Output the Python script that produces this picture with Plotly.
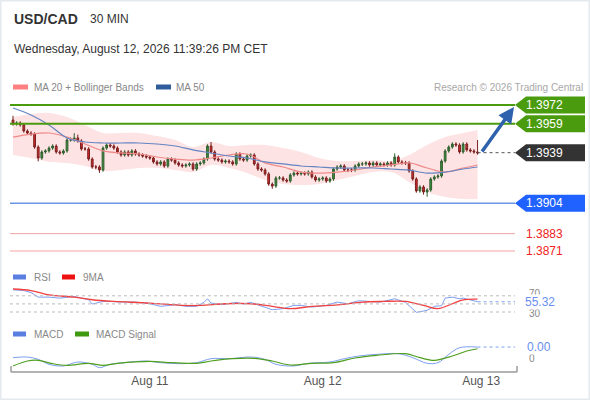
import pandas as pd
import plotly.graph_objects as go

# ---------------- data ----------------
symbol = "USD/CAD"
timeframe = "30 MIN"
timestamp_text = "Wednesday, August 12, 2026 11:39:26 PM CET"
credit = "Research \u00a9 2026 Trading Central"

bar_start = "2026-08-10 05:00"
n_bars = 130

opens = [1.39616,1.39589,1.39595,1.39582,1.39540,1.39526,1.39519,1.39429,1.39353,1.39395,
         1.39402,1.39422,1.39436,1.39395,1.39388,1.39402,1.39478,1.39478,1.39492,1.39471,
         1.39416,1.39416,1.39346,1.39291,1.39291,1.39270,1.39422,1.39443,1.39436,1.39422,
         1.39395,1.39374,1.39395,1.39374,1.39402,1.39381,1.39374,1.39367,1.39360,1.39353,
         1.39326,1.39312,1.39326,1.39298,1.39346,1.39339,1.39319,1.39305,1.39298,1.39305,
         1.39312,1.39277,1.39312,1.39319,1.39346,1.39436,1.39395,1.39346,1.39339,1.39326,
         1.39332,1.39326,1.39312,1.39381,1.39346,1.39339,1.39367,1.39374,1.39312,1.39277,
         1.39270,1.39243,1.39173,1.39159,1.39215,1.39215,1.39201,1.39194,1.39236,1.39249,
         1.39243,1.39249,1.39243,1.39256,1.39222,1.39201,1.39208,1.39215,1.39194,1.39208,
         1.39277,1.39291,1.39298,1.39270,1.39270,1.39270,1.39298,1.39312,1.39312,1.39319,
         1.39305,1.39319,1.39305,1.39312,1.39305,1.39319,1.39305,1.39360,1.39326,1.39319,
         1.39319,1.39263,1.39208,1.39125,1.39153,1.39118,1.39132,1.39208,1.39222,1.39229,
         1.39332,1.39402,1.39429,1.39450,1.39443,1.39395,1.39450,1.39409,1.39402,1.39395]
highs = [1.39645,1.39607,1.39607,1.39594,1.39552,1.39538,1.39531,1.39441,1.39407,1.39414,
         1.39434,1.39448,1.39448,1.39407,1.39414,1.39490,1.39495,1.39525,1.39515,1.39483,
         1.39430,1.39428,1.39358,1.39305,1.39303,1.39434,1.39455,1.39455,1.39448,1.39434,
         1.39407,1.39407,1.39407,1.39414,1.39414,1.39393,1.39386,1.39379,1.39372,1.39365,
         1.39338,1.39338,1.39338,1.39358,1.39358,1.39351,1.39331,1.39317,1.39317,1.39324,
         1.39324,1.39324,1.39331,1.39358,1.39448,1.39464,1.39407,1.39358,1.39351,1.39344,
         1.39344,1.39338,1.39393,1.39393,1.39358,1.39379,1.39386,1.39386,1.39324,1.39289,
         1.39282,1.39255,1.39185,1.39227,1.39229,1.39227,1.39213,1.39248,1.39261,1.39261,
         1.39261,1.39261,1.39268,1.39268,1.39234,1.39220,1.39227,1.39227,1.39220,1.39289,
         1.39303,1.39310,1.39310,1.39284,1.39284,1.39310,1.39324,1.39326,1.39331,1.39331,
         1.39331,1.39331,1.39324,1.39324,1.39331,1.39331,1.39385,1.39372,1.39338,1.39333,
         1.39331,1.39275,1.39220,1.39165,1.39165,1.39144,1.39220,1.39234,1.39241,1.39344,
         1.39414,1.39441,1.39462,1.39462,1.39455,1.39462,1.39462,1.39421,1.39414,1.39478]
lows = [1.39577,1.39577,1.39570,1.39528,1.39514,1.39507,1.39417,1.39330,1.39341,1.39383,
        1.39390,1.39410,1.39383,1.39376,1.39376,1.39390,1.39466,1.39466,1.39459,1.39404,
        1.39404,1.39334,1.39279,1.39275,1.39250,1.39258,1.39410,1.39424,1.39410,1.39383,
        1.39362,1.39362,1.39362,1.39362,1.39369,1.39362,1.39355,1.39348,1.39341,1.39314,
        1.39300,1.39300,1.39286,1.39286,1.39327,1.39307,1.39293,1.39286,1.39286,1.39293,
        1.39265,1.39265,1.39300,1.39307,1.39334,1.39383,1.39334,1.39327,1.39314,1.39314,
        1.39314,1.39300,1.39300,1.39334,1.39327,1.39327,1.39355,1.39300,1.39265,1.39258,
        1.39231,1.39161,1.39140,1.39147,1.39203,1.39189,1.39182,1.39182,1.39224,1.39231,
        1.39231,1.39231,1.39231,1.39210,1.39189,1.39189,1.39196,1.39182,1.39182,1.39196,
        1.39265,1.39279,1.39258,1.39256,1.39256,1.39258,1.39286,1.39298,1.39300,1.39293,
        1.39293,1.39293,1.39293,1.39293,1.39293,1.39293,1.39293,1.39314,1.39307,1.39305,
        1.39251,1.39196,1.39113,1.39113,1.39100,1.39085,1.39120,1.39196,1.39210,1.39217,
        1.39320,1.39390,1.39417,1.39431,1.39383,1.39383,1.39397,1.39390,1.39383,1.39376]
closes = [1.39589,1.39595,1.39582,1.39540,1.39526,1.39519,1.39429,1.39353,1.39395,1.39402,
          1.39422,1.39436,1.39395,1.39388,1.39402,1.39478,1.39478,1.39492,1.39471,1.39416,
          1.39416,1.39346,1.39291,1.39291,1.39270,1.39422,1.39443,1.39436,1.39422,1.39395,
          1.39374,1.39395,1.39374,1.39402,1.39381,1.39374,1.39367,1.39360,1.39353,1.39326,
          1.39312,1.39326,1.39298,1.39346,1.39339,1.39319,1.39305,1.39298,1.39305,1.39312,
          1.39277,1.39312,1.39319,1.39346,1.39436,1.39395,1.39346,1.39339,1.39326,1.39332,
          1.39326,1.39312,1.39381,1.39346,1.39339,1.39367,1.39374,1.39312,1.39277,1.39270,
          1.39243,1.39173,1.39159,1.39215,1.39215,1.39201,1.39194,1.39236,1.39249,1.39243,
          1.39249,1.39243,1.39256,1.39222,1.39201,1.39208,1.39215,1.39194,1.39208,1.39277,
          1.39291,1.39298,1.39270,1.39270,1.39270,1.39298,1.39312,1.39312,1.39319,1.39305,
          1.39319,1.39305,1.39312,1.39305,1.39319,1.39305,1.39360,1.39326,1.39319,1.39319,
          1.39263,1.39208,1.39125,1.39153,1.39118,1.39132,1.39208,1.39222,1.39229,1.39332,
          1.39402,1.39429,1.39450,1.39443,1.39395,1.39450,1.39409,1.39402,1.39395,1.39388]

# moving averages / Bollinger bands, read at every 5th bar
ind_idx = [0,5,10,15,20,25,30,35,40,45,50,55,60,65,70,75,80,85,90,95,100,105,110,115,120,125,129]
ma20 = [1.39498,1.39519,1.39526,1.39498,1.39450,1.39402,1.39388,1.39381,1.39360,1.39346,1.39339,1.39353,1.39374,
        1.39381,1.39319,1.39291,1.39256,1.39249,1.39256,1.39270,1.39291,1.39305,1.39319,1.39284,1.39256,1.39284,1.39305]
bb_upper = [1.39637,1.39658,1.39665,1.39637,1.39582,1.39526,1.39526,1.39526,1.39505,1.39478,1.39429,1.39464,1.39436,
            1.39443,1.39443,1.39422,1.39395,1.39353,1.39332,1.39332,1.39339,1.39332,1.39374,1.39443,1.39498,1.39526,1.39547]
bb_lower = [1.39374,1.39353,1.39326,1.39319,1.39298,1.39263,1.39270,1.39284,1.39284,1.39270,1.39256,1.39305,1.39284,
            1.39249,1.39201,1.39173,1.39166,1.39173,1.39201,1.39229,1.39256,1.39256,1.39187,1.39118,1.39083,1.39069,1.39069]
ma50 = [1.39699,1.39651,1.39582,1.39492,1.39464,1.39457,1.39457,1.39457,1.39450,1.39436,1.39409,1.39388,1.39367,
        1.39353,1.39326,1.39312,1.39298,1.39291,1.39284,1.39284,1.39284,1.39277,1.39270,1.39249,1.39256,1.39277,1.39291]

rsi_idx = [0,3,5,7,10,13,17,21,22,25,27,30,34,38,41,45,48,51,53,54,55,58,62,64,66,69,72,75,78,80,
           83,87,90,93,96,99,102,106,109,111,112,115,117,119,120,122,124,125,128,129]
rsi_vals = [84.7,83.0,78.0,66.7,66.7,64.3,68.4,60.2,49.6,56.1,56.1,54.5,54.5,50.4,43.9,48.0,43.9,43.9,53.7,62.6,
            52.0,48.0,53.7,49.6,53.7,43.9,35.7,38.2,46.3,46.3,42.2,46.3,54.5,50.4,57.8,56.1,54.5,62.6,53.7,37.4,
            29.2,34.1,43.9,45.5,64.3,66.7,62.6,64.3,58.6,55.32]
rsi_ma_idx = [0,5,10,17,22,28,38,47,52,59,66,72,77,83,91,97,103,109,114,118,122,125,129]
rsi_ma_vals = [86.8,83.0,72.4,66.7,60.2,56.1,52.0,46.3,46.3,50.4,50.4,43.9,38.2,43.9,48.0,54.5,56.1,56.1,
               46.3,38.2,50.4,60.2,61.8]

macd_idx = [0,4,7,10,14,18,22,24,27,31,37,41,47,51,55,60,66,70,73,78,82,88,92,96,101,107,111,115,118,121,124,129]
macd_vals = [-0.000020,-0.000012,-0.000040,-0.000100,-0.000120,-0.000072,-0.000100,-0.000140,-0.000100,-0.000080,
             -0.000060,-0.000080,-0.000092,-0.000080,-0.000032,-0.000032,-0.000012,-0.000040,-0.000100,-0.000120,
             -0.000088,-0.000072,-0.000032,0.000000,0.000020,0.000028,-0.000020,-0.000088,-0.000080,0.000020,
             0.000100,0.000108]
signal_idx = [0,4,7,11,15,21,25,29,38,44,51,55,61,67,72,77,83,89,95,101,109,113,117,122,126,129]
signal_vals = [-0.000120,-0.000060,-0.000052,-0.000092,-0.000112,-0.000088,-0.000112,-0.000088,-0.000064,-0.000080,
               -0.000088,-0.000060,-0.000032,-0.000028,-0.000060,-0.000108,-0.000088,-0.000080,-0.000024,0.000008,
               0.000028,-0.000020,-0.000052,0.000000,0.000060,0.000088]

resistance_levels = [1.3972, 1.3959]
pivot_level = 1.3939
support_main = 1.3904
support_minor = [1.3883, 1.3871]
rsi_label = "55.32"
macd_label = "0.00"
tick_times = ["2026-08-11 00:00", "2026-08-12 00:00", "2026-08-12 22:00"]
tick_labels = ["Aug 11", "Aug 12", "Aug 13"]

# ---------------- helpers ----------------
W, H = 590, 400
def px(x):
    return x / W
def py(y):
    return 1 - y / H

times = pd.date_range(bar_start, periods=n_bars, freq="30min")
ind_t = [times[i] for i in ind_idx]
x_range = ["2026-08-10 04:35", "2026-08-13 02:42"]
price_range = [1.3860, 1.3980]

FONT = "Arial, Liberation Sans, sans-serif"
GREEN = "#4a9c0e"
BLUE_LBL = "#1f62ff"
DARK = "#333333"

fig = go.Figure()

# Bollinger band (base price axis, drawn below the candles)
fig.add_trace(go.Scatter(x=ind_t, y=bb_upper, mode="lines", line=dict(width=0, color="rgba(0,0,0,0)", shape="spline"),
                         hoverinfo="skip", showlegend=False))
fig.add_trace(go.Scatter(x=ind_t, y=bb_lower, mode="lines", line=dict(width=0, color="rgba(0,0,0,0)", shape="spline"),
                         fill="tonexty", fillcolor="#fde3e3", hoverinfo="skip", showlegend=False))

# candles + MAs on an overlaying price axis so they sit above the band fill
fig.add_trace(go.Candlestick(
    x=times, open=opens, high=highs, low=lows, close=closes, yaxis="y4",
    increasing=dict(line=dict(color="#2f5f2f", width=1), fillcolor="#3f8f3f"),
    decreasing=dict(line=dict(color="#7a2020", width=1), fillcolor="#d42b2b"),
    showlegend=False))
fig.add_trace(go.Scatter(x=ind_t, y=ma20, yaxis="y4", mode="lines",
                         line=dict(color="#f08a8a", width=1.2, shape="spline"), showlegend=False))
fig.add_trace(go.Scatter(x=ind_t, y=ma50, yaxis="y4", mode="lines",
                         line=dict(color="#6484c4", width=1.2, shape="spline"), showlegend=False))

fig.add_trace(go.Scatter(x=[times[i] for i in rsi_idx], y=rsi_vals, yaxis="y2", mode="lines",
                         line=dict(color="#7d9ef0", width=1), showlegend=False))
fig.add_trace(go.Scatter(x=[times[i] for i in rsi_ma_idx], y=rsi_ma_vals, yaxis="y2", mode="lines",
                         line=dict(color="#f04040", width=1.3, shape="spline"), showlegend=False))
fig.add_trace(go.Scatter(x=[times[i] for i in macd_idx], y=macd_vals, yaxis="y3", mode="lines",
                         line=dict(color="#7d9ef0", width=1, shape="spline"), showlegend=False))
fig.add_trace(go.Scatter(x=[times[i] for i in signal_idx], y=signal_vals, yaxis="y3", mode="lines",
                         line=dict(color="#4f9f1f", width=1.2, shape="spline"), showlegend=False))

shapes = []
ann = []

# frame
shapes.append(dict(type="rect", xref="paper", yref="paper", x0=0, x1=1, y0=0, y1=1,
                   line=dict(color="#e4e9ee", width=3), layer="below"))

# level lines
for lv in resistance_levels:
    shapes.append(dict(type="line", xref="x domain", yref="y", x0=0, x1=1, y0=lv, y1=lv,
                       line=dict(color=GREEN, width=2)))
shapes.append(dict(type="line", xref="x domain", yref="y", x0=0, x1=1, y0=support_main, y1=support_main,
                   line=dict(color="#6a96e6", width=1.5)))
for lv in support_minor:
    shapes.append(dict(type="line", xref="x domain", yref="y", x0=0, x1=1, y0=lv, y1=lv,
                       line=dict(color="#f2a3a3", width=1)))
shapes.append(dict(type="line", xref="x", yref="y", x0=times[-1], x1=x_range[1], y0=pivot_level, y1=pivot_level,
                   line=dict(color="#555555", width=1, dash="dot")))

# tag labels
tag_path = "M0,0 L11,8.5 L70,8.5 L70,-8.5 L11,-8.5 Z"
for lv, col in [(resistance_levels[0], GREEN), (resistance_levels[1], GREEN),
                (pivot_level, DARK), (support_main, BLUE_LBL)]:
    shapes.append(dict(type="path", xref="paper", yref="y", xsizemode="pixel", ysizemode="pixel",
                       xanchor=px(515), yanchor=lv, path=tag_path, fillcolor=col, line=dict(width=0)))
    ann.append(dict(x=px(524), y=lv, xref="paper", yref="y", text=f"{lv:.4f}", showarrow=False,
                    xanchor="left", yanchor="middle", font=dict(color="white", size=12, family=FONT)))
for lv in support_minor:
    ann.append(dict(x=px(524), y=lv, xref="paper", yref="y", text=f"{lv:.4f}", showarrow=False,
                    xanchor="left", yanchor="middle", font=dict(color="#ee2222", size=12, family=FONT)))

# direction arrow
ann.append(dict(x=px(514), y=1.39706, xref="paper", yref="y", text="", showarrow=True,
                ax=-33, ay=46, axref="pixel", ayref="pixel", arrowhead=2, arrowsize=0.9,
                arrowwidth=3.5, arrowcolor="#2f62ad", standoff=0, startstandoff=0))

# RSI guides
for lv in [70, 50, 30]:
    shapes.append(dict(type="line", xref="x domain", yref="y2", x0=0, x1=1, y0=lv, y1=lv,
                       line=dict(color="#bbbbbb", width=1, dash="dot")))
shapes.append(dict(type="line", xref="x", yref="y2", x0=times[-1], x1=x_range[1], y0=rsi_vals[-1], y1=rsi_vals[-1],
                   line=dict(color="#7d9ef0", width=1, dash="dot")))
shapes.append(dict(type="line", xref="x", yref="y3", x0=times[-1], x1=x_range[1], y0=macd_vals[-1], y1=macd_vals[-1],
                   line=dict(color="#7d9ef0", width=1, dash="dot")))

for txt, yv in [("70", 76), ("30", 27)]:
    ann.append(dict(x=px(527), y=yv, xref="paper", yref="y2", text=txt, showarrow=False, xanchor="left",
                    yanchor="middle", font=dict(color="#888888", size=10, family=FONT)))
ann.append(dict(x=px(524), y=rsi_vals[-1], xref="paper", yref="y2", text=rsi_label, showarrow=False,
                xanchor="left", yanchor="middle", bgcolor="white", borderpad=0,
                font=dict(color="#6a8ff0", size=12, family=FONT)))
ann.append(dict(x=px(527), y=-0.00003, xref="paper", yref="y3", text="0", showarrow=False, xanchor="left",
                yanchor="middle", font=dict(color="#888888", size=10, family=FONT)))
ann.append(dict(x=px(526), y=macd_vals[-1], xref="paper", yref="y3", text=macd_label, showarrow=False,
                xanchor="left", yanchor="middle", bgcolor="white", borderpad=0,
                font=dict(color="#6a8ff0", size=12, family=FONT)))

# bottom axis line with end caps
ax_y = py(372)
shapes.append(dict(type="line", xref="paper", yref="paper", x0=px(11), x1=px(517), y0=ax_y, y1=ax_y,
                   line=dict(color="#9a9a9a", width=1.5)))
for xx in [11, 517]:
    shapes.append(dict(type="line", xref="paper", yref="paper", x0=px(xx), x1=px(xx), y0=ax_y, y1=py(366),
                       line=dict(color="#9a9a9a", width=1.5)))

# header texts
ann.append(dict(x=px(12), y=py(19), xref="paper", yref="paper", text=f"<b>{symbol}</b>", showarrow=False,
                xanchor="left", yanchor="middle", font=dict(color=DARK, size=14, family=FONT)))
ann.append(dict(x=px(88), y=py(19), xref="paper", yref="paper", text=timeframe, showarrow=False,
                xanchor="left", yanchor="middle", font=dict(color=DARK, size=12, family=FONT)))
ann.append(dict(x=px(12), y=py(49), xref="paper", yref="paper", text=timestamp_text, showarrow=False,
                xanchor="left", yanchor="middle", font=dict(color=DARK, size=12, family=FONT)))
ann.append(dict(x=px(585), y=py(87), xref="paper", yref="paper", text=credit, showarrow=False,
                xanchor="right", yanchor="middle", font=dict(color="#a8a8a8", size=10, family=FONT)))

# legends
def legend_item(x0, x1, yc, color, label, lx):
    shapes.append(dict(type="rect", xref="paper", yref="paper", x0=px(x0), x1=px(x1),
                       y0=py(yc + 2.5), y1=py(yc - 2.5), fillcolor=color, line=dict(width=0)))
    ann.append(dict(x=px(lx), y=py(yc), xref="paper", yref="paper", text=label, showarrow=False,
                    xanchor="left", yanchor="middle", font=dict(color="#888888", size=10, family=FONT)))

legend_item(13, 28, 87, "#ff8080", "MA 20 + Bollinger Bands", 32)
legend_item(156, 171, 87, "#2f5c9a", "MA 50", 174)
legend_item(13, 26, 277, "#5b7fe0", "RSI", 32)
legend_item(62, 75, 277, "#ee1111", "9MA", 81)
legend_item(13, 26, 334, "#5b7fe0", "MACD", 32)
legend_item(75, 89, 334, "#3f9a10", "MACD Signal", 94)

fig.update_layout(
    width=W, height=H, margin=dict(l=0, r=0, t=0, b=0),
    paper_bgcolor="white", plot_bgcolor="rgba(0,0,0,0)",
    showlegend=False, shapes=shapes, annotations=ann,
    xaxis=dict(domain=[px(10), px(515)], range=x_range, type="date", anchor="free", position=ax_y,
               rangeslider=dict(visible=False), showgrid=False, zeroline=False, showline=False,
               ticks="", tickvals=tick_times, ticktext=tick_labels,
               tickfont=dict(color="#555555", size=12, family=FONT)),
    yaxis=dict(domain=[py(266.9), py(93.4)], range=price_range, visible=False),
    yaxis4=dict(overlaying="y", range=price_range, visible=False),
    yaxis2=dict(domain=[py(316.05), py(287.7)], range=[20, 90], visible=False),
    yaxis3=dict(domain=[py(369.3), py(344.4)], range=[-0.00016, 0.00014], visible=False),
)

fig.write_html("out.html", config={"displayModeBar": False},
               post_script="document.body.style.margin='0';document.body.style.overflow='hidden';")
